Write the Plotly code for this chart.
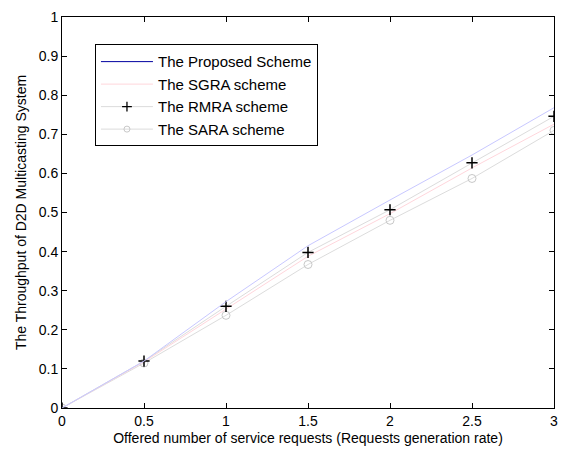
import plotly.graph_objects as go

x = [0, 0.5, 1, 1.5, 2, 2.5, 3]
proposed = [0, 0.12, 0.272, 0.415, 0.532, 0.647, 0.768]
sgra = [0, 0.118, 0.253, 0.388, 0.497, 0.614, 0.726]
rmra = [0, 0.12, 0.26, 0.398, 0.507, 0.627, 0.746]
sara = [0, 0.115, 0.237, 0.367, 0.48, 0.587, 0.71]

x_ticks = [0, 0.5, 1, 1.5, 2, 2.5, 3]
x_ticklabels = ["0", "0.5", "1", "1.5", "2", "2.5", "3"]
y_ticks = [0, 0.1, 0.2, 0.3, 0.4, 0.5, 0.6, 0.7, 0.8, 0.9, 1]
y_ticklabels = ["0", "0.1", "0.2", "0.3", "0.4", "0.5", "0.6", "0.7", "0.8", "0.9", "1"]

names = ["The Proposed Scheme", "The SGRA scheme", "The RMRA scheme", "The SARA scheme"]

fig = go.Figure()
# visible traces (no legend)
fig.add_trace(go.Scatter(x=x, y=sara, mode="lines+markers", showlegend=False,
                         line=dict(color="#dcdcdc", width=1),
                         marker=dict(symbol="circle-open", size=8, color="#c8c8c8", line=dict(width=1))))
fig.add_trace(go.Scatter(x=x, y=sgra, mode="lines", showlegend=False,
                         line=dict(color="#ffd6dc", width=1)))
fig.add_trace(go.Scatter(x=x, y=rmra, mode="lines+markers", showlegend=False,
                         line=dict(color="#dcdcdc", width=1),
                         marker=dict(symbol="cross-thin", size=8, color="black", line=dict(width=1.5, color="black"))))
fig.add_trace(go.Scatter(x=x, y=proposed, mode="lines", showlegend=False,
                         line=dict(color="#c8c8ff", width=1)))

# legend entries
fig.add_trace(go.Scatter(x=[None], y=[None], mode="lines", name=names[0],
                         line=dict(color="#0000a0", width=1)))
fig.add_trace(go.Scatter(x=[None], y=[None], mode="lines", name=names[1],
                         line=dict(color="#ffd6dc", width=1)))
fig.add_trace(go.Scatter(x=[None], y=[None], mode="lines+markers", name=names[2],
                         line=dict(color="#dcdcdc", width=1),
                         marker=dict(symbol="cross-thin", size=7, color="black", line=dict(width=1.3, color="black"))))
fig.add_trace(go.Scatter(x=[None], y=[None], mode="lines+markers", name=names[3],
                         line=dict(color="#dcdcdc", width=1),
                         marker=dict(symbol="circle-open", size=6, color="#c8c8c8", line=dict(width=1))))

axis_common = dict(showline=True, linecolor="black", linewidth=1, mirror="ticks",
                   ticks="inside", ticklen=5, tickcolor="black", showgrid=False,
                   zeroline=False, ticklabeloverflow="allow",
                   tickfont=dict(size=14, color="black", family="Liberation Sans, Arial"))

fig.update_layout(
    width=561, height=451,
    margin=dict(l=62, r=3, t=17, b=43),
    paper_bgcolor="white", plot_bgcolor="white",
    font=dict(family="Liberation Sans, Arial", size=14, color="black"),
    xaxis=dict(range=[0, 3], tickvals=x_ticks, ticktext=x_ticklabels,
               title=dict(text="Offered number of service requests (Requests generation rate)",
                          font=dict(size=14), standoff=5),
               **axis_common),
    yaxis=dict(range=[0, 1], tickvals=y_ticks, ticktext=y_ticklabels,
               title=dict(text="The Throughput of D2D Multicasting System",
                          font=dict(size=14), standoff=8),
               **axis_common),
    legend=dict(x=0.067, y=0.93, xanchor="left", yanchor="top",
                bordercolor="black", borderwidth=1, bgcolor="white",
                font=dict(size=15), tracegroupgap=0, itemwidth=52),
)

fig.write_html("out.html")
